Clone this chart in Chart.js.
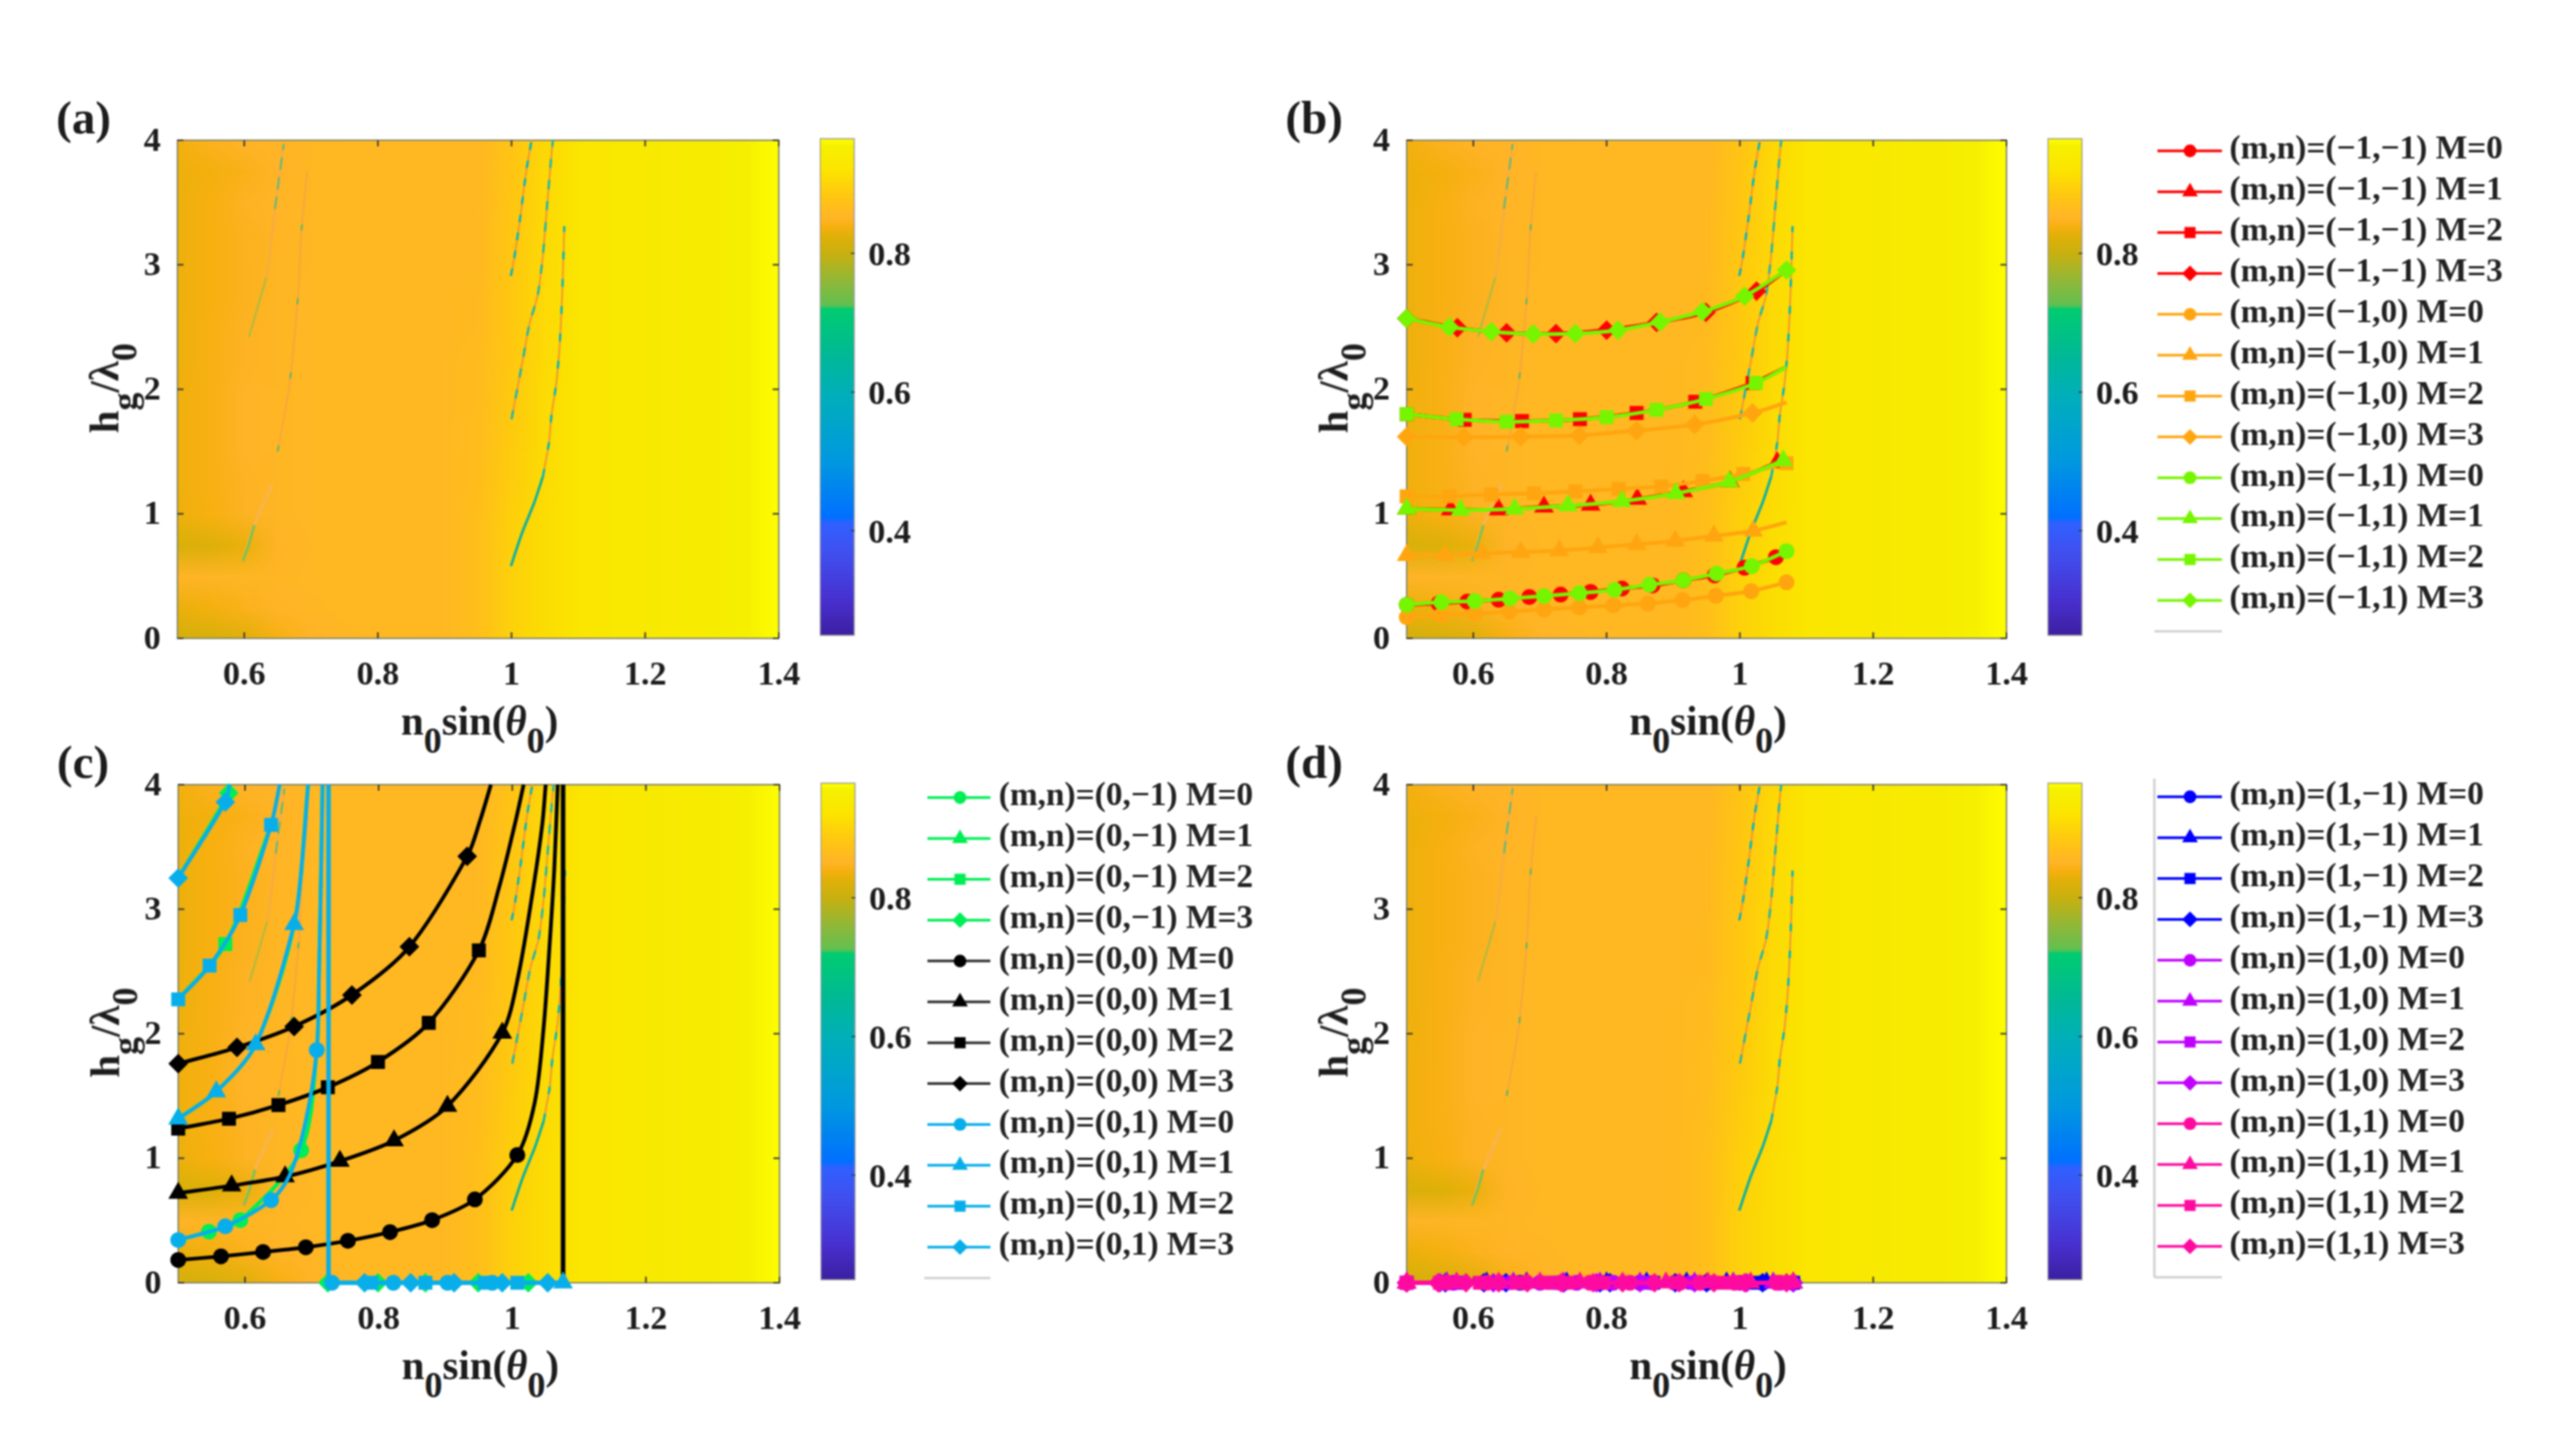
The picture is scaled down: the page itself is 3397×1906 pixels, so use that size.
<!DOCTYPE html>
<html><head><meta charset="utf-8">
<script src="https://cdn.jsdelivr.net/npm/chart.js@4"></script>
<style>
html,body{margin:0;padding:0;background:#fff;width:3397px;height:1906px;overflow:hidden}
body{filter:blur(.8px)}
canvas{position:absolute}
.t{position:absolute;font:bold 54px "Liberation Serif",serif;color:#1c1c1c;white-space:nowrap;line-height:1}
.t sub{font-size:.88em;vertical-align:-.5em;line-height:0}
.l{position:absolute;font:bold 62px "Liberation Serif",serif;color:#1c1c1c;line-height:1}
</style></head><body>
<script>
// ---------- axes ----------
const xTicks=[0.6,0.8,1,1.2,1.4];
const yTicks=[0,1,2,3,4];
const barTicks=[0.4,0.6,0.8];
// ---------- background map: rows from h/λ=4 down to 0, columns n0 sin = 0.50 ... 1.40 (step 0.05) ----------
const heatXMin=0.5, heatXMax=1.4, heatYMin=0, heatYMax=4;
const heat=[
[.838,.846,.85,.852,.856,.858,.858,.858,.858,.858,.878,.905,.925,.93,.935,.94,.945,.955,.965],
[.834,.838,.844,.85,.856,.858,.858,.858,.858,.858,.88,.908,.925,.93,.935,.94,.945,.955,.965],
[.834,.84,.848,.852,.856,.858,.858,.858,.858,.86,.882,.908,.925,.93,.935,.94,.945,.955,.965],
[.834,.84,.846,.853,.856,.858,.858,.858,.858,.86,.884,.908,.925,.93,.935,.94,.945,.955,.965],
[.834,.84,.846,.855,.856,.858,.858,.858,.858,.86,.885,.908,.925,.93,.935,.94,.945,.955,.965],
[.834,.84,.846,.855,.857,.858,.858,.858,.858,.862,.885,.908,.925,.93,.935,.94,.945,.955,.965],
[.834,.842,.848,.855,.857,.858,.858,.858,.858,.862,.885,.908,.925,.93,.935,.94,.945,.955,.965],
[.834,.842,.848,.855,.857,.858,.858,.858,.86,.864,.885,.908,.925,.93,.935,.94,.945,.955,.965],
[.835,.842,.85,.855,.857,.858,.858,.858,.86,.864,.888,.91,.925,.93,.935,.94,.945,.955,.965],
[.836,.842,.85,.855,.857,.858,.858,.858,.86,.866,.888,.91,.925,.93,.935,.94,.945,.955,.965],
[.836,.842,.85,.855,.857,.858,.858,.858,.86,.866,.89,.91,.925,.93,.935,.94,.945,.955,.965],
[.836,.842,.848,.855,.857,.858,.858,.858,.86,.868,.892,.91,.925,.93,.935,.94,.945,.955,.965],
[.834,.84,.848,.855,.857,.858,.858,.858,.86,.87,.895,.912,.925,.93,.935,.94,.945,.955,.965],
[.818,.822,.832,.85,.856,.858,.858,.858,.86,.87,.897,.912,.925,.93,.935,.94,.945,.955,.965],
[.85,.852,.855,.855,.857,.858,.858,.858,.86,.87,.898,.912,.925,.93,.935,.94,.945,.955,.965],
[.832,.838,.845,.85,.855,.858,.858,.858,.86,.87,.898,.912,.925,.93,.935,.94,.945,.955,.965],
[.812,.815,.825,.84,.85,.855,.858,.858,.86,.87,.898,.912,.925,.93,.935,.94,.945,.955,.965]
];
// ---------- colour bar ----------
const barMin=0.249, barMax=0.9656;
const cmapV=[.249,.3,.37,.41,.42,.5,.6,.65,.72,.725,.76,.8,.825,.84,.85,.885,.92,.93,.955,.9656];
const cmapC=['#3c1fa0','#4830d0','#4050f0','#3060ff','#0070ff','#0098e0','#00b0b8','#00b898','#00cc70','#60c050','#90b838','#c8b010','#e0b008','#f8b010','#ffb428','#ffc810','#fce400','#fae800','#f6f000','#ffff00'];
// ---------- thin resonance streaks in the map ----------
const stMainLowX=[.999,1.016,1.034,1.047], stMainLowY=[.58,.85,1.09,1.30];
const stMainUpX=[1.047,1.056,1.06,1.067,1.072,1.076,1.079], stMainUpY=[1.30,1.57,1.80,2.05,2.35,2.79,3.31];
const stBX=[1.0,1.017,1.027,1.039,1.047,1.053,1.06,1.062], stBY=[1.76,2.24,2.53,2.75,3.08,3.46,3.9,4];
const stCX=[.999,1.004,1.013,1.022,1.03], stCY=[2.91,3.05,3.38,3.75,4];
const stDX=[.598,.615,.642], stDY=[.62,.91,1.24];
const stEX=[.607,.633,.646,.659], stEY=[2.42,2.9,3.45,3.97];
const stFX=[.65,.668,.681,.685,.694], stFY=[1.5,2.05,2.79,3.23,3.75];
// ---------- panel (b) ----------
const bRed0X=[.5,.548,.591,.638,.684,.731,.776,.823,.869,.915,.962,1.007,1.054,1.07], bRed0Y=[.27,.28,.295,.31,.332,.351,.373,.40,.425,.466,.506,.568,.652,.70];
const bRed1X=[.5,.566,.638,.706,.776,.846,.915,.985,1.056,1.065], bRed1Y=[1.04,1.034,1.034,1.056,1.071,1.118,1.18,1.258,1.413,1.428];
const bRed2X=[.5,.587,.673,.76,.845,.933,1.019,1.07], bRed2Y=[1.80,1.755,1.745,1.76,1.81,1.90,2.05,2.18];
const bRed3X=[.5,.576,.65,.724,.80,.875,.949,1.025,1.07], bRed3Y=[2.57,2.494,2.453,2.447,2.475,2.537,2.618,2.789,2.957];
const bOr0X=[.5,.552,.603,.654,.706,.759,.81,.862,.914,.964,1.017,1.07], bOr0Y=[.17,.186,.20,.215,.233,.248,.264,.28,.307,.342,.379,.45];
const bOr1X=[.5,.557,.613,.671,.729,.787,.845,.903,.961,1.02,1.07], bOr1Y=[.667,.667,.683,.693,.705,.73,.755,.783,.823,.863,.932];
const bOr2X=[.5,.564,.627,.691,.753,.818,.882,.944,1.005,1.07], bOr2Y=[1.14,1.14,1.155,1.165,1.18,1.20,1.22,1.264,1.32,1.407];
const bOr3X=[.5,.586,.671,.759,.845,.932,1.019,1.07], bOr3Y=[1.62,1.615,1.62,1.63,1.668,1.717,1.81,1.895];
const bGr0X=[.5,.552,.602,.655,.706,.759,.812,.864,.915,.965,1.018,1.07], bGr0Y=[.27,.29,.30,.32,.34,.363,.39,.43,.466,.52,.58,.70];
const bGr1X=[.5,.581,.662,.742,.823,.904,.984,1.065], bGr1Y=[1.04,1.03,1.04,1.065,1.10,1.165,1.258,1.428];
const bGr2X=[.5,.575,.65,.724,.80,.875,.949,1.024,1.07], bGr2Y=[1.80,1.76,1.74,1.75,1.776,1.835,1.922,2.05,2.18];
const bGr3X=[.5,.564,.627,.69,.753,.817,.88,.944,1.007,1.07], bGr3Y=[2.57,2.5,2.463,2.444,2.447,2.475,2.54,2.624,2.748,2.957];
// ---------- panel (c) ----------
const cBk0X=[.5,.564,.627,.691,.754,.817,.88,.944,1.0075,1.0336,1.0466,1.0564,1.063,1.068], cBk0Y=[.183,.212,.247,.285,.337,.407,.503,.669,1.026,1.448,2.03,2.756,3.337,4];
const cBk1X=[.5,.58,.66,.742,.823,.903,.985,1.009,1.032,1.045,1.05], cBk1Y=[.72,.78,.852,.977,1.142,1.419,2.006,2.465,3.19,3.686,4];
const cBk2X=[.5,.576,.65,.724,.799,.875,.95,.981,1.004,1.017], cBk2Y=[1.238,1.317,1.427,1.57,1.773,2.087,2.669,3.19,3.686,4];
const cBk3X=[.5,.588,.6735,.76,.846,.9325,.952,.968], cBk3Y=[1.759,1.89,2.058,2.311,2.698,3.424,3.715,4];
const cBkCutX=[1.076,1.076], cBkCutY=[0,4];
const cCy0X=[.5,.5705,.639,.667,.691,.7074,.7107,.714,.716], cCy0Y=[.343,.453,.663,.866,1.302,1.869,2.465,3.337,4];
const cCy1X=[.5,.557,.616,.6735,.6846,.6944], cCy1Y=[1.317,1.535,1.913,2.878,3.337,4];
const cCy2X=[.5,.547,.593,.639,.652], cCy2Y=[2.276,2.547,2.953,3.677,4];
const cCy3X=[.5,.5705,.577], cCy3Y=[3.25,3.86,4];
const cCyCutX=[.725,.725,1.076], cCyCutY=[4,0,0];
const cGr0X=[.5,.546,.593,.684,.7074,.7107,.716], cGr0Y=[.343,.41,.503,1.064,1.869,2.465,4];
const cGr1X=[.5,.557,.616,.6735,.6944], cGr1Y=[1.317,1.535,1.913,2.878,4];
const cGr2X=[.5,.5705,.639], cGr2Y=[2.276,2.72,3.677];
const cGr3X=[.5,.5757,.577], cGr3Y=[3.25,3.933,4];
const cZeroGreenD=[.724,.799,.87,.949,1.024];
const cZeroCyanC=[.73,.822,.903,.97];
const cZeroCyanS=[.789,.87,.959,1.0075];
const cZeroCyanD=[.779,.848,.913,.985,1.053];
const cZeroCyanT=[1.076];
// ---------- panel (d): every mode sits on h/λ=0 ----------
const dBlue0=[.5,.558,.616,.67,.736,.79,.85,.903,.95,1.034,1.08];
const dBlue1=[.5,.56,.62,.68,.74,.80,.86,.92,.98,1.04,1.08];
const dBlue2=[.5,.575,.649,.72,.805,.87,.948,1.02,1.08];
const dBlue3=[.5,.558,.616,.649,.736,.79,.805,.903,.95,1.034,1.08];
const dVio0=[.5,.57,.64,.70,.755,.81,.87,.932,1.0,1.06];
const dVio1=[.5,.56,.66,.735,.79,.85,.932,.99,1.05];
const dVio2=[.5,.58,.66,.73,.80,.86,.93,1.0,1.07];
const dVio3=[.5,.55,.63,.735,.785,.85,.932,1.01,1.08];
const dPink0=[.5,.56,.62,.68,.73,.775,.835,.91,.94,.992,1.055];
const dPink1=[.5,.575,.638,.70,.76,.824,.889,.952,1.016,1.08];
const dPink2=[.5,.55,.61,.665,.71,.742,.795,.905,.975,1.06];
const dPink3=[.5,.547,.589,.638,.681,.732,.78,.824,.872,.909,.961,1.007,1.07];
// ---------- labels and colours ----------
const mLabels=['M=0','M=1','M=2','M=3'];
const shapes=['circle','triangle','rect','rectRot'];
const radii={circle:10.5,triangle:15,rect:13,rectRot:13};
const colRed='#ff0000',colOr='#ffa50f',colLime='#76f500',colSpring='#00ee55',colBk='#000000',colCy='#08aeea',colBlue='#0000ff',colVio='#c000ff',colPink='#ff0aa0';
const FONT='"Liberation Serif",serif';

function hexRgb(h){return [1,3,5].map(i=>parseInt(h.substr(i,2),16));}
function cmap(v){
  if(v<=cmapV[0])return hexRgb(cmapC[0]);
  for(let i=1;i<cmapV.length;i++){ if(v<=cmapV[i]){
    const t=(v-cmapV[i-1])/(cmapV[i]-cmapV[i-1]),a=hexRgb(cmapC[i-1]),b=hexRgb(cmapC[i]);
    return a.map((c,k)=>c+(b[k]-c)*t);}}
  return hexRgb(cmapC[cmapC.length-1]);
}
const heatImg=document.createElement('canvas');
heatImg.width=heat[0].length;heatImg.height=heat.length;
{const g=heatImg.getContext('2d');heat.forEach((row,j)=>row.forEach((v,i)=>{const c=cmap(v);g.fillStyle=`rgb(${c[0]|0},${c[1]|0},${c[2]|0})`;g.fillRect(i,j,1,1);}));}

const heatPlugin={id:'heat',beforeDatasetsDraw(ch){
  const x=ch.scales.x,y=ch.scales.y,c=ch.ctx,px0=x.getPixelForValue(heatXMin),px1=x.getPixelForValue(heatXMax),py0=y.getPixelForValue(heatYMax),py1=y.getPixelForValue(heatYMin);
  c.save();c.imageSmoothingEnabled=true;c.imageSmoothingQuality='low';
  c.drawImage(heatImg,.5,.5,heatImg.width-1,heatImg.height-1,px0,py0,px1-px0,py1-py0);
  c.strokeStyle='#8a8a6a';c.lineWidth=2;c.strokeRect(px0,py0,px1-px0,py1-py0);
  c.strokeStyle='#333';c.lineWidth=2;c.beginPath();
  xTicks.forEach(v=>{const p=x.getPixelForValue(v);c.moveTo(p,py1);c.lineTo(p,py1-8);c.moveTo(p,py0);c.lineTo(p,py0+8);});
  yTicks.forEach(v=>{const p=y.getPixelForValue(v);c.moveTo(px0,p);c.lineTo(px0+8,p);c.moveTo(px1,p);c.lineTo(px1-8,p);});
  c.stroke();c.restore();
}};
const legendPlugin={id:'sLegend',afterDraw(ch,_,o){
  if(!o||!o.y0)return;const c=ch.ctx;let i=0;c.save();
  const ox=ch.canvas.offsetLeft,oy=ch.canvas.offsetTop;
  ch.data.datasets.forEach(d=>{ if(!d.label||d.streak)return;
    const y=o.y0+o.step*i-oy;i++;
    c.strokeStyle=c.fillStyle=d.legendColor;c.lineWidth=3.5;c.globalAlpha=d.legendColor===colBk?.8:1;
    c.beginPath();c.moveTo(o.x1-ox,y);c.lineTo(o.x2-ox,y);c.stroke();
    c.globalAlpha=1;
    Chart.helpers.drawPoint(c,{pointStyle:d.pointStyle,radius:radii[d.pointStyle]*.8,rotation:0,borderWidth:0},o.xm-ox,y);
    c.fillStyle='#222';c.font='bold 44px '+FONT;c.textBaseline='middle';c.textAlign='left';
    c.fillText(d.label,o.xt-ox,y-1);
  });
  c.strokeStyle='#cfcfcf';c.lineWidth=3;c.beginPath();
  const sy=o.y0+o.step*i-oy-o.step*.24;c.moveTo(o.x1-ox-4,sy);c.lineTo(o.x2-ox,sy);
  if(o.vline){c.moveTo(o.x1-ox-4,o.y0-oy-24);c.lineTo(o.x1-ox-4,sy);}
  c.stroke();c.restore();
}};

function ser(label,color,shape,xs,ys,marks,extra){
  const mk=marks===undefined?xs.map((_,i)=>i):(typeof marks==='number'?xs.map((_,i)=>i).filter(i=>i<marks):marks);
  return Object.assign({label,legendColor:color,data:xs.map((x,i)=>({x,y:ys[i]})),borderColor:color,backgroundColor:color,
    pointBackgroundColor:color,pointBorderWidth:0,pointStyle:shape,showLine:true,borderWidth:5,tension:.3,clip:false,
    pointRadius:xs.map((_,i)=>mk.includes(i)?radii[shape]:0)},extra||{});
}
function zero(xs){return xs.map(()=>0);}
function streak(xs,ys,color,w,dash){
  return {streak:true,data:xs.map((x,i)=>({x,y:ys[i]})),borderColor:color,borderWidth:w,borderDash:dash||[],showLine:true,tension:.25,pointRadius:0,clip:true};
}
function streaks(){return [
  streak(stFX,stFY,'#f5a83c',2.5),streak(stEX,stEY,'#f6ac40',3),streak(stDX,stDY,'#f9b44c',4),
  streak(stBX,stBY,'#f09a30',2.5),streak(stCX,stCY,'#f09a30',2.5),streak(stMainUpX,stMainUpY,'#f09a30',2.5),
  streak(stFX,stFY,'#60b868',2.5,[8,90]),streak([.607,.633],[2.42,2.9],'#b0bc38',2.5),streak([.646,.659],[3.45,3.97],'#60b880',2.5,[16,10]),
  streak([.598,.607,.615],[.62,.76,.91],'#80c050',3.5),
  streak(stMainLowX,stMainLowY,'#10b0a0',3.5),streak(stMainUpX,stMainUpY,'#00b4c8',3,[10,26]),
  streak(stBX,stBY,'#20b4b0',3,[12,16]),streak(stCX,stCY,'#00b4c8',3,[10,14])
];}
function lbl(mn,i){return `(m,n)=(${mn}) ${mLabels[i]}`;}

function panel(L,T,R,B,letter,sets,legend,rightPad){
  const cL=L-110,cT=T-40,cW=R-cL+rightPad,cH=B-cT+75;
  const cv=document.createElement('canvas');cv.width=cW;cv.height=cH;cv.style.left=cL+'px';cv.style.top=cT+'px';cv.style.width=cW+'px';cv.style.height=cH+'px';
  document.body.appendChild(cv);
  const all=streaks().concat(sets);
  all.forEach((d,i)=>d.order=all.length-i);
  const font={family:FONT,size:45,weight:'bold'};
  new Chart(cv,{type:'scatter',data:{datasets:all},plugins:[heatPlugin,legendPlugin],options:{
    responsive:false,animation:false,devicePixelRatio:1,events:[],
    layout:{padding:{left:0,top:40,right:rightPad,bottom:0}},
    plugins:{legend:{display:false},tooltip:{enabled:false},sLegend:legend||{}},
    scales:{
      x:{type:'linear',min:heatXMin,max:heatXMax,grid:{display:false},border:{display:false},
        afterBuildTicks:s=>{s.ticks=xTicks.map(value=>({value}));},afterFit:s=>{s.height=75;},
        ticks:{autoSkip:false,maxRotation:0,padding:14,color:'#1c1c1c',font,callback:v=>String(v)}},
      y:{type:'linear',min:heatYMin,max:heatYMax,grid:{display:false},border:{display:false},
        afterBuildTicks:s=>{s.ticks=yTicks.map(value=>({value}));},afterFit:s=>{s.width=110;},
        ticks:{autoSkip:false,padding:14,labelOffset:2,color:'#1c1c1c',font,callback:v=>String(v)}}
    }}});
  // colour bar
  const bL=R+54,bW=46,bT=T-1,bH=B-T-3,pad=40;
  const cb=document.createElement('canvas');cb.width=bW+100;cb.height=bH+2*pad;cb.style.left=bL+'px';cb.style.top=(bT-pad)+'px';cb.style.width=(bW+100)+'px';cb.style.height=(bH+2*pad)+'px';
  document.body.appendChild(cb);
  new Chart(cb,{type:'bar',data:{labels:[''],datasets:[{data:[[barMin,barMax]],barPercentage:1,categoryPercentage:1,
      backgroundColor:ctx=>{const a=ctx.chart.chartArea;if(!a)return '#fff';const y=ctx.chart.scales.y,g=ctx.chart.ctx.createLinearGradient(0,y.getPixelForValue(barMax),0,y.getPixelForValue(barMin));
        cmapV.forEach((v,i)=>g.addColorStop((barMax-v)/(barMax-barMin),cmapC[i]));return g;}}]},
    plugins:[{id:'barFrame',afterDatasetsDraw(ch){const a=ch.chartArea,c=ch.ctx,y=ch.scales.y;c.save();c.strokeStyle='#9a9a9a';c.lineWidth=1.5;c.strokeRect(a.left+.5,a.top,a.right-a.left-1,a.bottom-a.top);
      c.strokeStyle='#333';c.beginPath();barTicks.forEach(v=>{const p=y.getPixelForValue(v);c.moveTo(a.right,p);c.lineTo(a.right-5,p);});c.stroke();c.restore();}}],
    options:{responsive:false,animation:false,devicePixelRatio:1,events:[],
      layout:{padding:{left:0,top:pad,right:0,bottom:pad}},
      plugins:{legend:{display:false},tooltip:{enabled:false}},
      scales:{x:{display:false},
        y:{position:'right',min:barMin,max:barMax,grid:{display:false},border:{display:false},
          afterBuildTicks:s=>{s.ticks=barTicks.map(value=>({value}));},afterFit:s=>{s.width=100;},
          ticks:{autoSkip:false,padding:10,labelOffset:4,color:'#1c1c1c',font,callback:v=>v.toFixed(1)}}}}});
  // titles
  const tx=document.createElement('div');tx.className='t';tx.innerHTML='n<sub>0</sub>sin(<i>θ</i><sub>0</sub>)';
  tx.style.left=((L+R)/2+2)+'px';tx.style.top=(B+82)+'px';tx.style.transform='translateX(-50%)';document.body.appendChild(tx);
  const ty=document.createElement('div');ty.className='t';ty.innerHTML='h<sub>g</sub>/λ<sub>0</sub>';
  ty.style.left=(L-96)+'px';ty.style.top=(T+328)+'px';ty.style.transform='translate(-50%,-50%) rotate(-90deg)';document.body.appendChild(ty);
  const l=document.createElement('div');l.className='l';l.textContent=letter;l.style.left=(L-160)+'px';l.style.top=(T-60)+'px';document.body.appendChild(l);
}

// (a)
panel(234,184,1027,842,'(a)',[],null,120);
// (b)
panel(1855,184,2646,842,'(b)',[
  ser(lbl('−1,−1',0),colRed,shapes[0],bRed0X,bRed0Y,13),
  ser(lbl('−1,−1',1),colRed,shapes[1],bRed1X,bRed1Y,9),
  ser(lbl('−1,−1',2),colRed,shapes[2],bRed2X,bRed2Y,7),
  ser(lbl('−1,−1',3),colRed,shapes[3],bRed3X,bRed3Y,8),
  ser(lbl('−1,0',0),colOr,shapes[0],bOr0X,bOr0Y),
  ser(lbl('−1,0',1),colOr,shapes[1],bOr1X,bOr1Y,10),
  ser(lbl('−1,0',2),colOr,shapes[2],bOr2X,bOr2Y),
  ser(lbl('−1,0',3),colOr,shapes[3],bOr3X,bOr3Y,7),
  ser(lbl('−1,1',0),colLime,shapes[0],bGr0X,bGr0Y),
  ser(lbl('−1,1',1),colLime,shapes[1],bGr1X,bGr1Y),
  ser(lbl('−1,1',2),colLime,shapes[2],bGr2X,bGr2Y,8),
  ser(lbl('−1,1',3),colLime,shapes[3],bGr3X,bGr3Y)
],{x1:2845,x2:2930,xm:2888,xt:2940,y0:199,step:53.9},740);
// (c)
panel(235,1034,1028,1692,'(c)',[
  ser(lbl('0,−1',0),colSpring,shapes[0],cGr0X,cGr0Y,[1,2,3]),
  ser(lbl('0,−1',1),colSpring,shapes[1],cGr1X,cGr1Y,[0]),
  ser(lbl('0,−1',2),colSpring,shapes[2],cGr2X,cGr2Y,[1]),
  ser(lbl('0,−1',3),colSpring,shapes[3],cGr3X,cGr3Y,[1]),
  ser(null,colSpring,shapes[3],cZeroGreenD,zero(cZeroGreenD),undefined,{showLine:false}),
  ser(lbl('0,0',0),colBk,shapes[0],cBk0X,cBk0Y,9),
  ser(lbl('0,0',1),colBk,shapes[1],cBk1X,cBk1Y,7),
  ser(lbl('0,0',2),colBk,shapes[2],cBk2X,cBk2Y,7),
  ser(lbl('0,0',3),colBk,shapes[3],cBk3X,cBk3Y,6),
  ser(null,colBk,'circle',cBkCutX,cBkCutY,[],{tension:0,borderWidth:6}),
  ser(lbl('0,1',0),colCy,shapes[0],cCy0X,cCy0Y,[0,1,2,5]),
  ser(lbl('0,1',1),colCy,shapes[1],cCy1X,cCy1Y,4),
  ser(lbl('0,1',2),colCy,shapes[2],cCy2X,cCy2Y,4),
  ser(lbl('0,1',3),colCy,shapes[3],cCy3X,cCy3Y,2),
  ser(null,colCy,'circle',cCyCutX,cCyCutY,[],{tension:0,borderWidth:6}),
  ser(null,colCy,shapes[0],cZeroCyanC,zero(cZeroCyanC),undefined,{showLine:false}),
  ser(null,colCy,shapes[1],cZeroCyanT,zero(cZeroCyanT),undefined,{showLine:false}),
  ser(null,colCy,shapes[2],cZeroCyanS,zero(cZeroCyanS),undefined,{showLine:false}),
  ser(null,colCy,shapes[3],cZeroCyanD,zero(cZeroCyanD),undefined,{showLine:false})
],{x1:1223,x2:1306,xm:1266,xt:1317,y0:1052,step:53.9},690);
// (d)
panel(1855,1034,2646,1692,'(d)',[
  ser(lbl('1,−1',0),colBlue,shapes[0],dBlue0,zero(dBlue0)),
  ser(lbl('1,−1',1),colBlue,shapes[1],dBlue1,zero(dBlue1)),
  ser(lbl('1,−1',2),colBlue,shapes[2],dBlue2,zero(dBlue2)),
  ser(lbl('1,−1',3),colBlue,shapes[3],dBlue3,zero(dBlue3)),
  ser(lbl('1,0',0),colVio,shapes[0],dVio0,zero(dVio0)),
  ser(lbl('1,0',1),colVio,shapes[1],dVio1,zero(dVio1)),
  ser(lbl('1,0',2),colVio,shapes[2],dVio2,zero(dVio2)),
  ser(lbl('1,0',3),colVio,shapes[3],dVio3,zero(dVio3)),
  ser(lbl('1,1',0),colPink,shapes[0],dPink0,zero(dPink0)),
  ser(lbl('1,1',1),colPink,shapes[1],dPink1,zero(dPink1)),
  ser(lbl('1,1',2),colPink,shapes[2],dPink2,zero(dPink2)),
  ser(lbl('1,1',3),colPink,shapes[3],dPink3,zero(dPink3))
],{x1:2845,x2:2930,xm:2888,xt:2940,y0:1051,step:53.9,vline:true},740);
</script>
</body></html>
